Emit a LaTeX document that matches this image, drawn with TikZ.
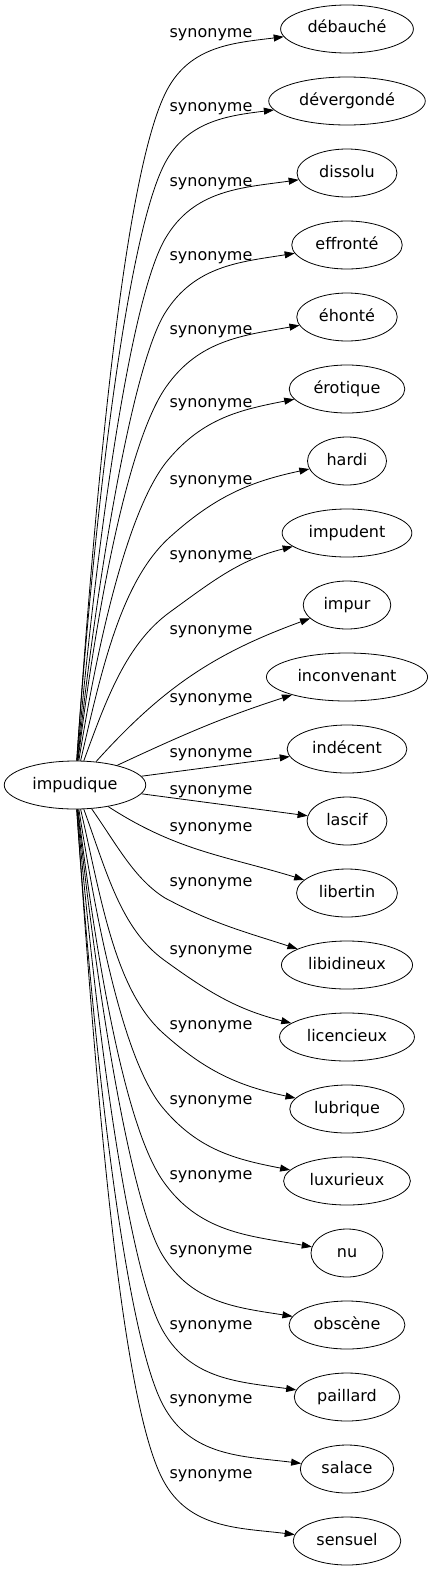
\documentclass[tikz,border=0pt]{standalone}
\usepackage{fontspec}
\setmainfont{DejaVu Sans}
\usepackage{tikz}
\usetikzlibrary{shapes.geometric,arrows.meta}
\tikzset{
  word/.style={draw, ellipse, inner xsep=7.5pt, inner ysep=0pt, minimum height=48pt, minimum width=72pt, text height=11.5pt, text depth=3.5pt},
  lab/.style={inner sep=0pt, text height=9pt, text depth=3.5pt},
}

\begin{document}
\begin{tikzpicture}[x=1pt, y=1pt, line width=0.8pt, >={Triangle[length=10pt,width=7pt]}, font=\fontsize{16}{19}\selectfont]
\useasboundingbox (0,0) rectangle (430,-1571);
\node[word] (imp) at (75,-785) {impudique};
\node[word] (deb) at (347,-29) {débauché};
\node[word] (dev) at (347,-101) {dévergondé};
\node[word] (dis) at (347,-173) {dissolu};
\node[word] (eff) at (347,-245) {effronté};
\node[word] (eho) at (347,-317) {éhonté};
\node[word] (ero) at (347,-389) {érotique};
\node[word] (har) at (347,-461) {hardi};
\node[word] (imd) at (347,-533) {impudent};
\node[word] (imr) at (347,-605) {impur};
\node[word] (inc) at (347,-677) {inconvenant};
\node[word] (ind) at (347,-749) {indécent};
\node[word] (las) at (347,-821) {lascif};
\node[word] (lib) at (347,-893) {libertin};
\node[word] (lbd) at (347,-965) {libidineux};
\node[word] (lic) at (347,-1037) {licencieux};
\node[word] (lub) at (347,-1109) {lubrique};
\node[word] (lux) at (347,-1181) {luxurieux};
\node[word] (nu) at (347,-1253) {nu};
\node[word] (obs) at (347,-1325) {obscène};
\node[word] (pai) at (347,-1397) {paillard};
\node[word] (sal) at (347,-1469) {salace};
\node[word] (sen) at (347,-1541) {sensuel};

\draw[->] (imp) to[out=86,in=242,in looseness=0.35] (167,-90) to[out=62,in=187] (deb);
\draw[->] (imp) to[out=86,in=242,in looseness=0.35] (165,-163) to[out=62,in=187] (dev);
\draw[->] (imp) to[out=85,in=240,in looseness=0.35] (165,-239) to[out=60,in=188] (dis);
\draw[->] (imp) to[out=84,in=238,in looseness=0.35] (165,-313) to[out=58,in=189] (eff);
\draw[->] (imp) to[out=83,in=235,in looseness=0.45] (166,-387) to[out=55,in=190] (eho);
\draw[->] (imp) to[out=81,in=230,in looseness=0.5] (168,-460) to[out=50,in=191] (ero);
\draw[->] (imp) to[out=77,in=222,in looseness=0.7] (170,-537) to[out=42,in=192] (har);
\draw[->] (imp) to[out=70,in=216,in looseness=0.8] (170,-612) to[out=36,in=194] (imd);
\draw[->] (imp) to[out=48,in=200] (imr);
\draw[->] (imp) to[out=25,in=198] (inc);
\draw[->] (imp) -- (ind);
\draw[->] (imp) -- (las);
\draw[->] (imp) to[out=-33,in=163] (lib);
\draw[->] (imp) to[out=-55,in=148,in looseness=0.8] (165,-898) to[out=-28,in=162] (lbd);
\draw[->] (imp) to[out=-70,in=144,in looseness=0.8] (164,-960) to[out=-36,in=166] (lic);
\draw[->] (imp) to[out=-77,in=138,in looseness=0.7] (163,-1033) to[out=-42,in=168] (lub);
\draw[->] (imp) to[out=-81,in=130,in looseness=0.5] (163,-1108) to[out=-50,in=169] (lux);
\draw[->] (imp) to[out=-83,in=125,in looseness=0.45] (163,-1181) to[out=-55,in=170] (nu);
\draw[->] (imp) to[out=-84,in=122,in looseness=0.35] (163,-1256) to[out=-58,in=171] (obs);
\draw[->] (imp) to[out=-85,in=120,in looseness=0.35] (163,-1331) to[out=-60,in=172] (pai);
\draw[->] (imp) to[out=-86,in=118,in looseness=0.35] (163,-1405) to[out=-62,in=173] (sal);
\draw[->] (imp) to[out=-86,in=118,in looseness=0.35] (163,-1480) to[out=-62,in=173] (sen);

\node[lab] (s1) at (211,-35) {synonyme};
\node[lab] (s2) at (211,-109) {synonyme};
\node[lab] (s3) at (211,-184) {synonyme};
\node[lab] (s4) at (211,-258) {synonyme};
\node[lab] (s5) at (211,-332) {synonyme};
\node[lab] (s6) at (211,-405) {synonyme};
\node[lab] (s7) at (211,-482) {synonyme};
\node[lab] (s8) at (211,-557) {synonyme};
\node[lab] (s9) at (211,-632) {synonyme};
\node[lab] (s10) at (211,-700) {synonyme};
\node[lab] (s11) at (211,-755) {synonyme};
\node[lab] (s12) at (211,-792) {synonyme};
\node[lab] (s13) at (211,-829) {synonyme};
\node[lab] (s14) at (211,-884) {synonyme};
\node[lab] (s15) at (211,-952) {synonyme};
\node[lab] (s16) at (211,-1027) {synonyme};
\node[lab] (s17) at (211,-1102) {synonyme};
\node[lab] (s18) at (211,-1177) {synonyme};
\node[lab] (s19) at (211,-1252) {synonyme};
\node[lab] (s20) at (211,-1327) {synonyme};
\node[lab] (s21) at (211,-1401) {synonyme};
\node[lab] (s22) at (211,-1476) {synonyme};
\end{tikzpicture}
\end{document}
